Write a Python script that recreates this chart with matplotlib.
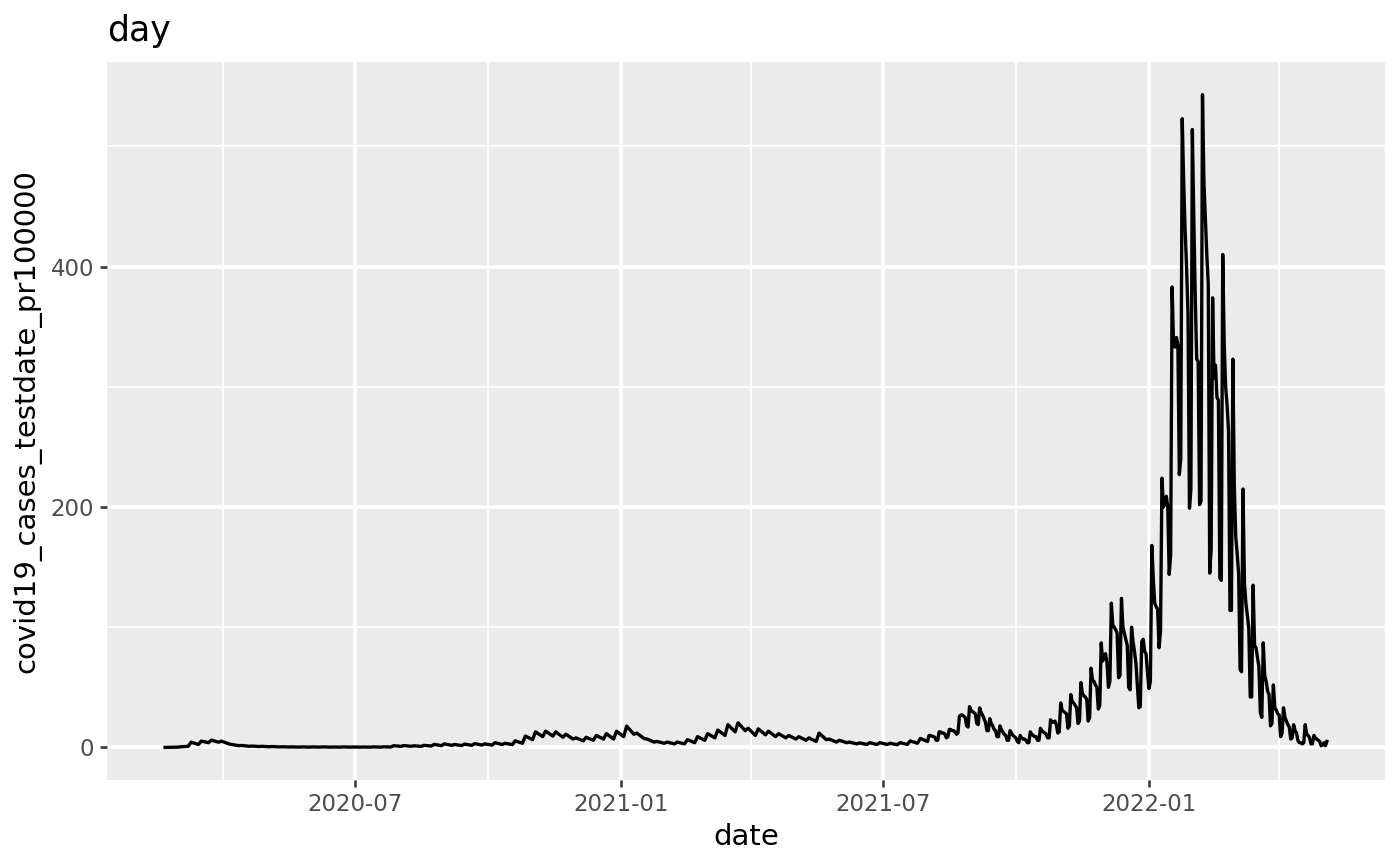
import matplotlib
matplotlib.use("Agg")
import matplotlib.pyplot as plt
import matplotlib.dates as mdates
import pandas as pd

title = "day"
x_label = "date"
y_label = "covid19_cases_testdate_pr100000"

x_major = ["2020-07-01", "2021-01-01", "2021-07-01", "2022-01-01"]
x_major_labels = ["2020-07", "2021-01", "2021-07", "2022-01"]
x_minor = ["2020-04-01", "2020-10-01", "2021-04-01", "2021-10-01", "2022-04-01"]
y_major = [0, 200, 400]
y_minor = [100, 300, 500]

# first days of the series
start_dates = ["2020-02-21", "2020-02-23"]
start_values = [0.1, 0.1]

# weekly readings (week starting monday): weekday level and weekend level
week_start = pd.date_range("2020-02-24", "2021-07-26", freq="7D")
week_high = [0.2, 0.6, 4.4, 5.3, 6.1, 5.3,
             2.5, 1.7, 1.2, 1.0,
             0.8, 0.6, 0.5, 0.5,
             0.5, 0.5, 0.4, 0.5, 0.4,
             0.4, 0.5, 0.6, 1.5,
             1.6, 1.4, 1.8, 2.6, 3.0,
             2.5, 2.8, 3.2, 3.0,
             4.0, 3.5, 5.5, 9.5,
             13.0, 13.6, 13.0, 11.0, 8.0,
             8.5, 10.0, 11.5, 13.5,
             17.8, 12.0, 7.0, 5.0,
             4.5, 4.5, 6.5, 9.0,
             11.5, 14.5, 19.0, 20.5, 16.0,
             15.5, 13.5, 11.5, 10.0,
             9.0, 8.0, 12.0, 7.0, 6.0,
             4.5, 3.8, 4.0, 4.0,
             3.5, 4.0, 5.5, 7.5]
week_low = [0.3, 1.0, 2.5, 4.0, 4.4, 3.0,
            1.5, 1.0, 0.8, 0.6,
            0.5, 0.4, 0.3, 0.3,
            0.3, 0.3, 0.3, 0.3, 0.3,
            0.3, 0.3, 0.4, 0.9,
            1.0, 0.9, 1.2, 1.5, 1.8,
            1.6, 1.8, 2.0, 2.0,
            2.5, 2.4, 3.5, 6.5,
            9.0, 9.5, 8.5, 7.0, 5.5,
            6.0, 7.0, 7.0, 9.0,
            11.0, 7.5, 4.5, 3.5,
            3.0, 3.0, 4.0, 6.0,
            8.0, 10.0, 13.0, 14.0, 10.0,
            10.5, 9.0, 8.0, 7.0,
            6.0, 5.0, 6.5, 4.5, 4.0,
            3.0, 2.5, 2.5, 2.5,
            2.3, 2.5, 3.5, 5.0]

# daily readings, mon..sun per row
daily_start = "2021-08-02"
daily_values = [
    10, 10, 9.5, 9, 8.5, 6, 6,
    13, 13, 12, 12, 11, 8, 9,
    15, 15, 14, 14, 13, 11, 12,
    26, 27, 27, 26, 25, 18, 17,
    34, 31, 30, 29, 28, 20, 19,
    33, 29, 27, 24, 21, 14, 14,
    24, 20, 18, 15, 14, 9, 9,
    18, 15, 13, 11, 10, 6, 6,
    14, 12, 10, 9, 8, 5, 4,
    10, 8, 7, 7, 6, 4, 4,
    13, 11, 10, 9, 9, 6, 6,
    16, 14, 13, 12, 11, 8, 8,
    23, 21, 21, 22, 19, 12, 13,
    37, 31, 30, 29, 28, 16, 18,
    44, 38, 37, 35, 33, 20, 22,
    54, 45, 43, 42, 40, 22, 25,
    66, 56, 55, 52, 50, 32, 35,
    87, 72, 76, 78, 70, 50, 55,
    120, 102, 100, 98, 95, 58, 60,
    124, 100, 95, 90, 85, 50, 48,
    100, 88, 80, 70, 52, 33, 34,
    88, 90, 80, 78, 62, 49, 55,
    168, 140, 120, 117, 115, 83, 97,
    224, 200, 203, 209, 200, 144, 160,
    383, 336, 333, 341, 335, 227, 240,
    523, 470, 430, 400, 360, 199, 215,
    514, 440, 375, 323, 321, 202, 205,
    543, 470, 440, 410, 385, 145, 165,
    374, 307, 318, 291, 289, 141, 139,
    410, 336, 300, 285, 263, 114, 114,
    323, 217, 175, 161, 144, 65, 63,
    215, 137, 120, 110, 99, 42, 42,
    135, 85, 83, 75, 67, 29, 25,
    87, 60, 55, 47, 44, 18, 20,
    52, 33, 31, 28, 27, 9, 12,
    33, 25, 22, 19, 17, 7, 8,
    19, 14, 12, 5.5, 4, 4, 3,
    4, 19, 11, 10, 8, 3, 3,
    10, 8, 7, 6, 5, 1.5, 2,
    4, 1.5, 5,
]

# put the series together
dates = list(pd.to_datetime(start_dates))
values = list(start_values)
for wk, hi, lo in zip(week_start, week_high, week_low):
    dates.append(wk + pd.Timedelta(days=1))
    values.append(hi)
    dates.append(wk + pd.Timedelta(days=6))
    values.append(lo)
daily_dates = pd.date_range(daily_start, periods=len(daily_values), freq="D")
dates += list(daily_dates)
values += daily_values

fig = plt.figure(figsize=(14, 8.65), dpi=100)
ax = fig.add_axes([107 / 1400, 1 - 780 / 865, (1385 - 107) / 1400, (780 - 62) / 865])

ax.plot(dates, values, color="black", linewidth=2.4, solid_joinstyle="round")

# ggplot-like 5% expansion
xmin = mdates.date2num(min(dates))
xmax = mdates.date2num(max(dates))
xpad = (xmax - xmin) * 0.05
ax.set_xlim(xmin - xpad, xmax + xpad)
ymin = min(values)
ymax = max(values)
ypad = (ymax - ymin) * 0.05
ax.set_ylim(ymin - ypad, ymax + ypad)

ax.set_xticks(pd.to_datetime(x_major))
ax.set_xticklabels(x_major_labels)
ax.set_xticks(pd.to_datetime(x_minor), minor=True)
ax.set_yticks(y_major)
ax.set_yticks(y_minor, minor=True)

ax.set_facecolor("#EBEBEB")
for s in ax.spines.values():
    s.set_visible(False)
ax.set_axisbelow(True)
ax.grid(which="major", color="white", linewidth=2.6)
ax.grid(which="minor", color="white", linewidth=1.3)

ax.tick_params(which="major", length=5.2, width=1.8, color="#333333",
               labelcolor="#4D4D4D", labelsize=16.5, pad=4)
ax.tick_params(which="minor", length=0)

ax.set_xlabel(x_label, fontsize=21, labelpad=5)
ax.set_ylabel(y_label, fontsize=21, labelpad=7)
ax.set_title(title, loc="left", fontsize=25, pad=15)

fig.savefig("out.png", dpi=100)
